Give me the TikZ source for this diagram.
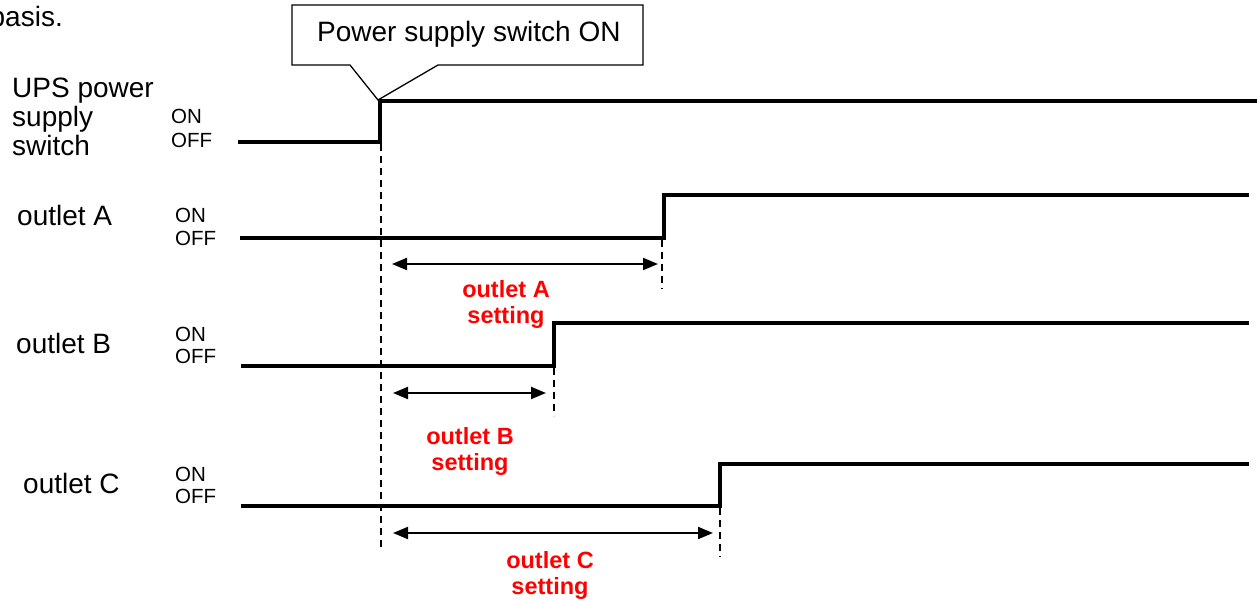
\documentclass[tikz,border=0pt]{standalone}
\usepackage{fontspec}
\setmainfont{Liberation Sans}
\usetikzlibrary{arrows.meta}
\begin{document}
\begin{tikzpicture}[x=1pt,y=-1pt,
  wave/.style={line width=3.2pt, line join=miter, line cap=butt},
  guide/.style={line width=1.3pt, dash pattern=on 7pt off 5pt},
  span/.style={line width=2pt, {Triangle[length=15pt,width=12pt]}-{Triangle[length=15pt,width=12pt]}},
  lab/.style={font=\fontsize{28}{29}\selectfont, anchor=base west, inner sep=0pt, align=left},
  st/.style={font=\fontsize{20.5}{24}\selectfont, anchor=base west, inner sep=0pt},
  redlab/.style={font=\fontsize{23.5}{26}\selectfont\bfseries, text=red, align=center, anchor=base, inner sep=0pt},
  callout/.style={line width=1.3pt, line join=miter}]

\useasboundingbox (0,0) rectangle (1259,602);

% text cut off at the top-left edge, as in the reference
\node[lab, anchor=base east] (basis) at (63,27) {basis.};

% callout
\coordinate (tip) at (378,100);
\draw[callout] (350,65) -- (292,65) -- (292,5) -- (643,5) -- (643,65) -- (438,65) -- (tip) -- cycle;
\node[lab] (calltext) at (317,42) {Power supply switch ON};

% left labels (anchor = baseline of the last line)
\node[lab] (ups) at (12,155) {UPS power\\supply\\switch};
\node[st] (upson) at (171,123) {ON};
\node[st] (upsoff) at (171,147) {OFF};

\node[lab] (la) at (17,225) {outlet A};
\node[st] (aon) at (175,222) {ON};
\node[st] (aoff) at (175,245) {OFF};

\node[lab] (lb) at (16,353) {outlet B};
\node[st] (bon) at (175,341) {ON};
\node[st] (boff) at (175,363) {OFF};

\node[lab] (lc) at (23,493) {outlet C};
\node[st] (con) at (175,481) {ON};
\node[st] (coff) at (175,503) {OFF};

% waveform corner points
\coordinate (u0) at (238,142);
\coordinate (u1) at (380,142);
\coordinate (u2) at (380,101);
\coordinate (u3) at (1257,101);

\coordinate (a0) at (240,238);
\coordinate (a1) at (664,238);
\coordinate (a2) at (664,195);
\coordinate (a3) at (1249,195);

\coordinate (b0) at (241,366);
\coordinate (b1) at (554,366);
\coordinate (b2) at (554,323);
\coordinate (b3) at (1249,323);

\coordinate (c0) at (241,506);
\coordinate (c1) at (720,506);
\coordinate (c2) at (720,464);
\coordinate (c3) at (1249,464);

\draw[wave] (u0) -- (u1) -- (u2) -- (u3);
\draw[wave] (a0) -- (a1) -- (a2) -- (a3);
\draw[wave] (b0) -- (b1) -- (b2) -- (b3);
\draw[wave] (c0) -- (c1) -- (c2) -- (c3);

% dashed guides
\coordinate (gu) at (381,550);
\coordinate (ga) at (662,289);
\coordinate (gb) at (554,416);
\coordinate (gc) at (720,557);
\draw[guide] (381,144) -- (gu);
\draw[guide] (662,240) -- (ga);
\draw[guide] (554,368) -- (gb);
\draw[guide] (720,508) -- (gc);

% spans
\coordinate (sa0) at (392,264); \coordinate (sa1) at (658,264);
\coordinate (sb0) at (393,393); \coordinate (sb1) at (546,393);
\coordinate (sc0) at (393,533); \coordinate (sc1) at (713,533);
\draw[span] (sa0) -- (sa1);
\draw[span] (sb0) -- (sb1);
\draw[span] (sc0) -- (sc1);

% red labels (anchor = baseline of the last line)
\node[redlab] (ra) at (506,323) {outlet A\\setting};
\node[redlab] (rb) at (470,470) {outlet B\\setting};
\node[redlab] (rc) at (550,594) {outlet C\\setting};
\end{tikzpicture}
\end{document}
